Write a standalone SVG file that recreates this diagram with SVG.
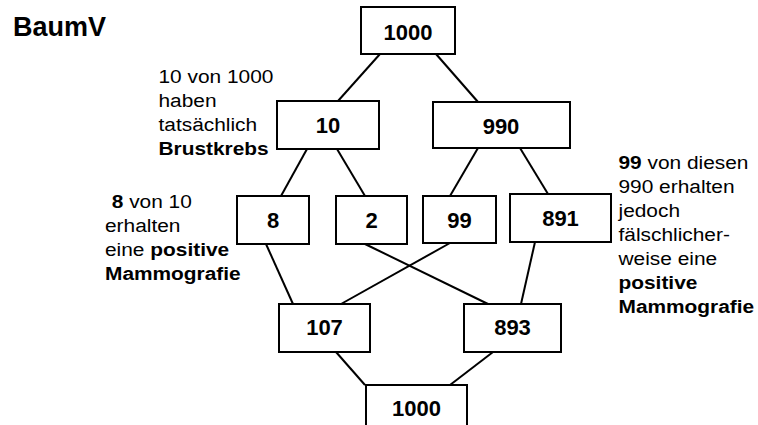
<svg xmlns="http://www.w3.org/2000/svg" width="758" height="425" viewBox="0 0 758 425">
<style>
.box{fill:#fff;stroke:#000;stroke-width:2}
.lbl{font-family:"Liberation Sans",Arial,sans-serif;font-weight:bold;font-size:22px;text-anchor:middle;fill:#000}
.ann{font-family:"Liberation Sans",Arial,sans-serif;font-size:18px;fill:#000}
.b{font-weight:bold}
#connectors line{stroke:#000;stroke-width:2}
</style>
<rect width="758" height="425" fill="#fff"/>
<text x="13" y="36" font-family="'Liberation Sans',Arial,sans-serif" font-weight="bold" font-size="27">BaumV</text>
<g id="connectors">
<line x1="380" y1="54" x2="338" y2="101"/>
<line x1="436" y1="54" x2="478" y2="102"/>
<line x1="307" y1="149" x2="281" y2="196"/>
<line x1="337" y1="149" x2="365" y2="196"/>
<line x1="478" y1="148" x2="450" y2="196"/>
<line x1="520" y1="148" x2="548" y2="194"/>
<line x1="266" y1="244" x2="293" y2="304"/>
<line x1="450" y1="243" x2="341" y2="304"/>
<line x1="365" y1="244" x2="488" y2="304"/>
<line x1="535" y1="242" x2="521" y2="304"/>
<line x1="336" y1="352" x2="365" y2="385"/>
<line x1="493" y1="352" x2="450" y2="385"/>
</g>
<g id="n1000top"><rect class="box" x="361" y="7" width="94" height="47"/><text class="lbl" x="408" y="39.5">1000</text></g>
<g id="n10"><rect class="box" x="277" y="101" width="102" height="48"/><text class="lbl" x="328" y="133">10</text></g>
<g id="n990"><rect class="box" x="433" y="102" width="137" height="46"/><text class="lbl" x="501" y="134">990</text></g>
<g id="n8"><rect class="box" x="237" y="196" width="72" height="48"/><text class="lbl" x="273" y="228">8</text></g>
<g id="n2"><rect class="box" x="336" y="196" width="71" height="48"/><text class="lbl" x="371.5" y="228">2</text></g>
<g id="n99"><rect class="box" x="423" y="196" width="73" height="47"/><text class="lbl" x="459.5" y="228">99</text></g>
<g id="n891"><rect class="box" x="510" y="194" width="101" height="48"/><text class="lbl" x="560.5" y="226">891</text></g>
<g id="n107"><rect class="box" x="279" y="304" width="91" height="48"/><text class="lbl" x="324.5" y="335">107</text></g>
<g id="n893"><rect class="box" x="464" y="304" width="97" height="48"/><text class="lbl" x="512.5" y="335">893</text></g>
<g id="n1000bottom"><rect class="box" x="366" y="385" width="101" height="50"/><text class="lbl" x="416.5" y="416">1000</text></g>
<g id="ann1"><text class="ann" transform="translate(158.5,0) scale(1.16,1)">
<tspan x="0" y="83">10 von 1000</tspan>
<tspan x="0" y="107">haben</tspan>
<tspan x="0" y="131">tatsächlich</tspan>
<tspan x="0" y="155" class="b">Brustkrebs</tspan>
</text></g>
<g id="ann2"><text class="ann" transform="translate(105,0) scale(1.16,1)">
<tspan x="5.8" y="208" class="b">8</tspan><tspan> von 10</tspan>
<tspan x="0" y="232">erhalten</tspan>
<tspan x="0" y="256">eine </tspan><tspan class="b">positive</tspan>
<tspan x="0" y="280" class="b">Mammografie</tspan>
</text></g>
<g id="ann3"><text class="ann" transform="translate(618.5,0) scale(1.16,1)">
<tspan x="0" y="169" class="b">99</tspan><tspan> von diesen</tspan>
<tspan x="0" y="193">990 erhalten</tspan>
<tspan x="0" y="217">jedoch</tspan>
<tspan x="0" y="241">fälschlicher-</tspan>
<tspan x="0" y="265">weise eine</tspan>
<tspan x="0" y="289" class="b">positive</tspan>
<tspan x="0" y="313" class="b">Mammografie</tspan>
</text></g>
</svg>
